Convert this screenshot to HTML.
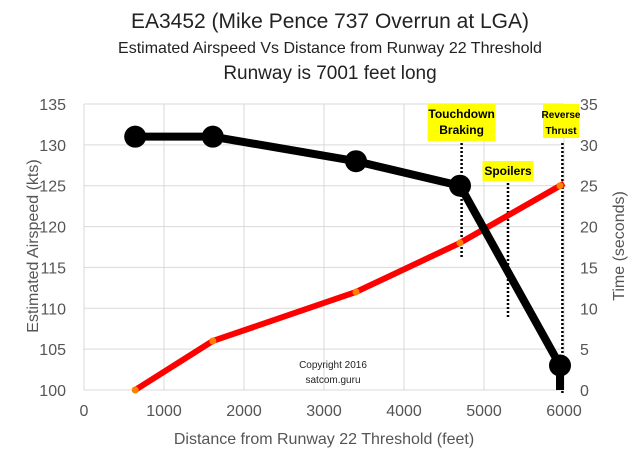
<!DOCTYPE html>
<html><head><meta charset="utf-8"><style>
body{margin:0;background:#fff;}
svg{display:block;font-family:"Liberation Sans",sans-serif;}
</style></head><body>
<svg id="chart" width="640" height="458">
<text x="330" y="28" text-anchor="middle" font-size="21" fill="#222">EA3452 (Mike Pence 737 Overrun at LGA)</text>
<text x="330" y="53" text-anchor="middle" font-size="16" fill="#222">Estimated Airspeed Vs Distance from Runway 22 Threshold</text>
<text x="330" y="79" text-anchor="middle" font-size="19" fill="#222">Runway is 7001 feet long</text>
<g id="grid"></g>
<g id="ticks"></g>
<text transform="translate(38,246) rotate(-90)" text-anchor="middle" font-size="16" fill="#555">Estimated Airspeed (kts)</text>
<text transform="translate(624,246) rotate(-90)" text-anchor="middle" font-size="16" fill="#555">Time (seconds)</text>
<text x="324" y="444" text-anchor="middle" font-size="16" fill="#555">Distance from Runway 22 Threshold (feet)</text>
<g id="annot"></g>
<g id="series"></g>
<text x="333" y="368" text-anchor="middle" font-size="10" fill="#222">Copyright 2016</text>
<text x="333" y="383" text-anchor="middle" font-size="10" fill="#222">satcom.guru</text>
</svg>
<script>
const xTicks=[0,1000,2000,3000,4000,5000,6000];
const yTicks=[100,105,110,115,120,125,130,135];
const y2Ticks=[0,5,10,15,20,25,30,35];
const distance=[640,1610,3400,4700,5950];
const airspeed=[131,131,128,125,103];
const timeDist=[640,1610,3400,4700,5950];
const timeSec=[0,6,12,18,25];
const events=["Touchdown Braking","Spoilers","Reverse Thrust"];
const eventDist=[4720,5300,5980];

const NS="http://www.w3.org/2000/svg";
const X=v=>84+v*0.08;
const Y=v=>390-(v-100)*(286/35);
const Y2=v=>390-v*(286/35);
function mk(tag,attrs,parent){const e=document.createElementNS(NS,tag);for(const k in attrs)e.setAttribute(k,attrs[k]);parent.appendChild(e);return e;}
const grid=document.getElementById('grid'),ticks=document.getElementById('ticks'),series=document.getElementById('series'),annot=document.getElementById('annot');
yTicks.forEach(v=>{
 const l=mk('line',{x1:84,x2:564,y1:Y(v),y2:Y(v),stroke:'#d9d9d9','stroke-width':1},grid);
 
 
 const t=mk('text',{x:66,y:Y(v)+6,'text-anchor':'end','font-size':16,fill:'#555'},ticks);t.textContent=v;
 
 
});
y2Ticks.forEach(v=>{
 const t=mk('text',{x:580,y:Y2(v)+6,'text-anchor':'start','font-size':16,fill:'#555'},ticks);t.textContent=v;
 
 
});
xTicks.forEach(v=>{
 const l=mk('line',{x1:X(v),x2:X(v),y1:104,y2:390,stroke:'#d9d9d9','stroke-width':1},grid);
 
 
 const t=mk('text',{x:X(v),y:416,'text-anchor':'middle','font-size':16,fill:'#555'},ticks);t.textContent=v;
 
 
});
// event annotations
const evTop=[143,183,143],evBot=[258,317,395];
const boxes=[{y:104,w:68,h:37,lines:['Touchdown','Braking']},{y:161,w:51,h:20,lines:['Spoilers']},{y:104,w:36,h:34,lines:['Reverse','Thrust']}];
events.forEach((name,i)=>{
 const x=X(eventDist[i]);
 const dl=mk('line',{x1:x,x2:x,y1:evTop[i],y2:evBot[i],stroke:'#000','stroke-width':2.5,'stroke-dasharray':'2,2'},annot);
 
 
 const b=boxes[i];
 let bx=x-b.w/2; if(bx+b.w>579)bx=579-b.w;
 const r=mk('rect',{x:bx,y:b.y,width:b.w,height:b.h,fill:'#ffff00'},annot);
 
 
 b.lines.forEach((s,j)=>{
  const t=mk('text',{x:bx+b.w/2,y:b.y+14+j*16,'text-anchor':'middle','font-size':b.w<40?10:12,'font-weight':'bold',fill:'#000'},annot);t.textContent=s;
  
  
 });
});
// red time series
let p=timeDist.map((d,i)=>X(d)+','+Y2(timeSec[i])).join(' ');
const n=timeDist.length;
const sl=(timeSec[n-1]-timeSec[n-2])/(timeDist[n-1]-timeDist[n-2]);
p+=' '+X(6000)+','+Y2(timeSec[n-1]+sl*(6000-timeDist[n-1]));
const rl=mk('polyline',{points:p,fill:'none',stroke:'#ff0000','stroke-width':6,'stroke-linejoin':'round'},series);


timeDist.forEach((d,i)=>{
 const c=mk('circle',{cx:X(d),cy:Y2(timeSec[i]),r:3.5,fill:'#ff8000'},series);
 
 
});
// black airspeed series
let q=distance.map((d,i)=>X(d)+','+Y(airspeed[i])).join(' ');
q+=' '+X(distance[distance.length-1])+','+Y(100);
const bl=mk('polyline',{points:q,fill:'none',stroke:'#000','stroke-width':8,'stroke-linejoin':'round'},series);


distance.forEach((d,i)=>{
 const c=mk('circle',{cx:X(d),cy:Y(airspeed[i]),r:11,fill:'#000'},series);
 
 
});
</script>
</body></html>
